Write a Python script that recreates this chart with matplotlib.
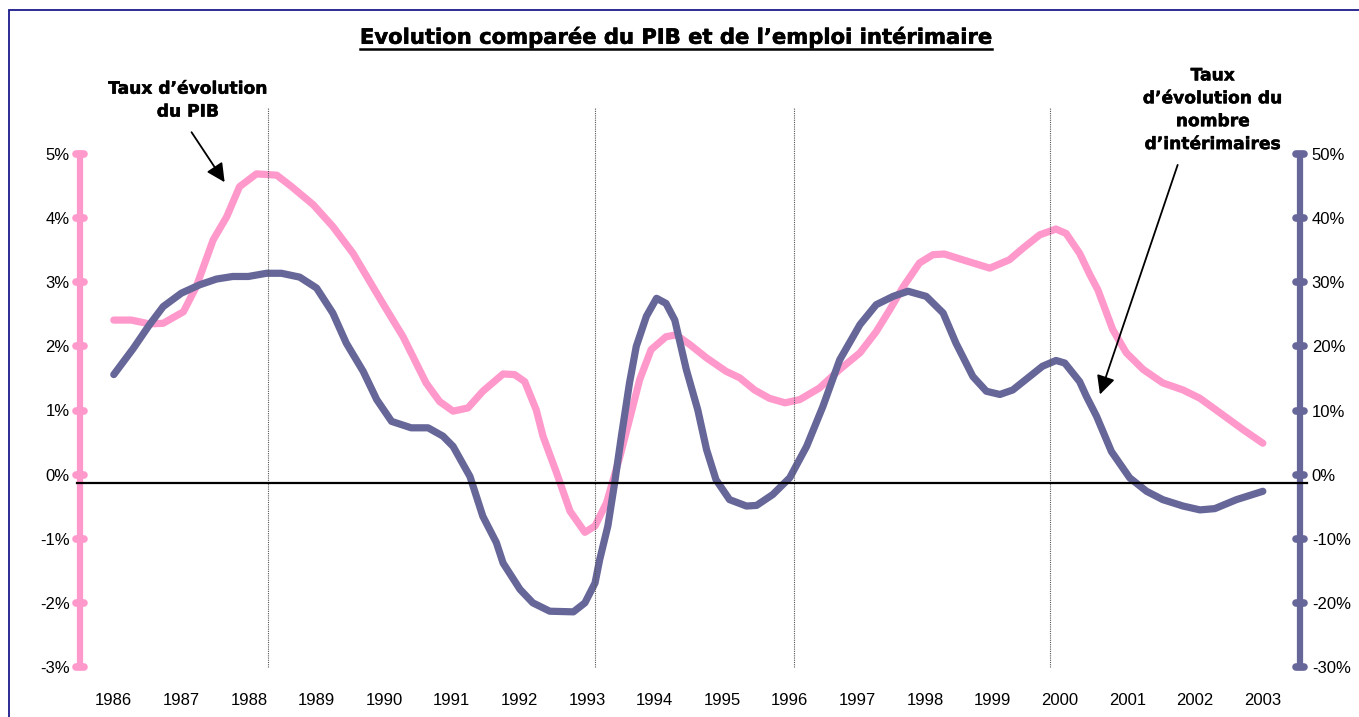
import matplotlib
matplotlib.use('Agg')
import matplotlib.pyplot as plt
import matplotlib.patheffects as pe
from matplotlib.lines import Line2D
from matplotlib.patches import Rectangle

PINK = '#FF99CC'
PURPLE = '#666699'

# taux d'evolution du PIB (%), axe de gauche
pib_x = [1986.00, 1986.26, 1986.53, 1986.73, 1987.03, 1987.22, 1987.47, 1987.67, 1987.86, 1988.11,
         1988.41, 1988.62, 1988.95, 1989.24, 1989.54, 1989.98, 1990.28, 1990.62, 1990.82, 1991.02,
         1991.24, 1991.46, 1991.66, 1991.76, 1991.93, 1992.08, 1992.25, 1992.35, 1992.55, 1992.75,
         1992.97, 1993.12, 1993.29, 1993.49, 1993.63, 1993.78, 1993.95, 1994.17, 1994.32, 1994.52,
         1994.77, 1995.06, 1995.26, 1995.48, 1995.70, 1995.93, 1996.15, 1996.44, 1996.74, 1997.04,
         1997.28, 1997.48, 1997.68, 1997.92, 1998.12, 1998.29, 1998.56, 1998.96, 1999.25, 1999.45,
         1999.70, 1999.94, 2000.09, 2000.29, 2000.44, 2000.56, 2000.78, 2000.98, 2001.23, 2001.52,
         2001.82, 2002.07, 2002.41, 2002.71, 2003.00]
pib = [2.41, 2.41, 2.35, 2.36, 2.54, 2.93, 3.66, 4.02, 4.49, 4.69,
       4.67, 4.50, 4.21, 3.87, 3.45, 2.67, 2.15, 1.43, 1.14, 0.99,
       1.04, 1.30, 1.48, 1.57, 1.56, 1.45, 1.01, 0.60, 0.03, -0.57,
       -0.90, -0.80, -0.44, 0.29, 0.86, 1.48, 1.95, 2.15, 2.18, 2.03,
       1.82, 1.61, 1.51, 1.32, 1.19, 1.12, 1.17, 1.35, 1.64, 1.90,
       2.23, 2.57, 2.93, 3.30, 3.43, 3.44, 3.35, 3.22, 3.35, 3.53,
       3.74, 3.83, 3.76, 3.45, 3.12, 2.88, 2.26, 1.90, 1.64, 1.43,
       1.32, 1.19, 0.93, 0.70, 0.49]

# taux d'evolution du nombre d'interimaires (%), axe de droite
int_x = [1986.00, 1986.29, 1986.53, 1986.73, 1987.00, 1987.27, 1987.52, 1987.76, 1987.99, 1988.26,
         1988.48, 1988.75, 1989.00, 1989.24, 1989.44, 1989.69, 1989.89, 1990.11, 1990.40, 1990.65,
         1990.87, 1991.02, 1991.27, 1991.46, 1991.66, 1991.76, 1992.01, 1992.20, 1992.45, 1992.80,
         1992.97, 1993.12, 1993.19, 1993.31, 1993.41, 1993.51, 1993.63, 1993.73, 1993.88, 1994.03,
         1994.17, 1994.30, 1994.47, 1994.64, 1994.77, 1994.91, 1995.11, 1995.36, 1995.51, 1995.75,
         1996.00, 1996.25, 1996.49, 1996.74, 1997.04, 1997.28, 1997.53, 1997.75, 1998.02, 1998.27,
         1998.46, 1998.71, 1998.91, 1999.11, 1999.30, 1999.55, 1999.74, 1999.94, 2000.07, 2000.29,
         2000.39, 2000.54, 2000.76, 2001.03, 2001.28, 2001.52, 2001.82, 2002.07, 2002.29, 2002.61,
         2003.00]
interim = [15.6, 19.7, 23.4, 26.2, 28.3, 29.6, 30.5, 30.9, 30.9, 31.4,
           31.4, 30.8, 29.1, 25.2, 20.5, 16.1, 11.7, 8.3, 7.3, 7.3,
           6.0, 4.4, -0.3, -6.5, -10.6, -13.8, -17.9, -20.0, -21.3, -21.4,
           -20.0, -16.9, -13.2, -8.0, -1.3, 6.0, 14.3, 20.0, 24.7, 27.5,
           26.7, 24.1, 16.4, 10.1, 3.9, -0.8, -3.9, -4.9, -4.8, -3.1,
           -0.5, 4.4, 10.6, 17.9, 23.4, 26.5, 27.8, 28.6, 27.8, 25.2,
           20.5, 15.3, 13.0, 12.5, 13.2, 15.3, 16.9, 17.8, 17.4, 14.5,
           12.2, 9.1, 3.6, -0.5, -2.6, -3.9, -4.9, -5.5, -5.3, -3.9,
           -2.6]

years = list(range(1986, 2004))
left_ticks = [-3, -2, -1, 0, 1, 2, 3, 4, 5]
right_ticks = [-30, -20, -10, 0, 10, 20, 30, 40, 50]
markers = [1988.28, 1993.12, 1996.06, 1999.85]
zero_line = -0.13

fig = plt.figure(figsize=(13.59, 7.17), dpi=100)
ax = fig.add_axes([80 / 1359, 50 / 717, 1220 / 1359, 513 / 717])
ax2 = ax.twinx()

ax.plot(pib_x, pib, color=PINK, lw=5.2, solid_capstyle='round', solid_joinstyle='round')
ax2.plot(int_x, interim, color=PURPLE, lw=5.2, solid_capstyle='round', solid_joinstyle='round')

ax.set_xlim(1985.5, 2003.55)
ax.set_ylim(-3, 5)
ax2.set_ylim(-30, 50)

# lignes verticales pointillees et ligne horizontale
for m in markers:
    ax2.plot([m, m], [-30, 57.3], color='#555555', lw=0.8, ls=(0, (1, 1)), clip_on=False, zorder=5)
ax2.plot([1985.45, 2003.65], [zero_line * 10, zero_line * 10], color='black', lw=1.6,
         clip_on=False, zorder=6)

for a in (ax, ax2):
    for s in a.spines.values():
        s.set_visible(False)
ax.spines['left'].set_visible(True)
ax.spines['left'].set_color(PINK)
ax.spines['left'].set_linewidth(4.5)
ax2.spines['right'].set_visible(True)
ax2.spines['right'].set_color(PURPLE)
ax2.spines['right'].set_linewidth(4.5)

# graduations arrondies sur les axes
half = 4 / 1220
for t in left_ticks:
    ax.plot([-half, half], [t, t], color=PINK, lw=5.5, solid_capstyle='round',
            transform=ax.get_yaxis_transform(), clip_on=False)
for t in right_ticks:
    ax2.plot([1 - half, 1 + half], [t, t], color=PURPLE, lw=5.5, solid_capstyle='round',
             transform=ax2.get_yaxis_transform(), clip_on=False)

tick_font = dict(family='Liberation Sans', size=12)
ax.set_yticks(left_ticks)
ax.set_yticklabels(['%d%%' % t for t in left_ticks], **tick_font)
ax.tick_params(axis='y', length=0, pad=7.5)
ax2.set_yticks(right_ticks)
ax2.set_yticklabels(['%d%%' % t for t in right_ticks], **tick_font)
ax2.tick_params(axis='y', length=0, pad=8.5)
ax.set_xticks(years)
ax.set_xticklabels([str(y) for y in years], **tick_font)
ax.tick_params(axis='x', length=0, pad=18.5)

# annotations
heavy = [pe.withStroke(linewidth=0.35, foreground='black')]
note_font = dict(family='DejaVu Sans', weight='bold', size=12.3, ha='center', va='center',
                 linespacing=1.35, path_effects=heavy)
ax.text(1987.1, 5.84, 'Taux d\u2019évolution\ndu PIB', clip_on=False, **note_font)
ax.annotate('', xy=(1987.64, 4.56), xytext=(1987.15, 5.34), annotation_clip=False,
            arrowprops=dict(arrowstyle='-|>', color='black', lw=1.3, mutation_scale=28,
                            shrinkA=0, shrinkB=0))
ax2.text(2002.26, 56.9, 'Taux\nd\u2019évolution du\nnombre\nd\u2019intérimaires', clip_on=False,
         **note_font)
ax2.annotate('', xy=(2000.59, 12.5), xytext=(2001.74, 48.3), annotation_clip=False,
             arrowprops=dict(arrowstyle='-|>', color='black', lw=1.3, mutation_scale=28,
                             shrinkA=0, shrinkB=0))

# titre souligne
title = fig.text(676 / 1359, 1 - 37 / 717,
                 'Evolution comparée du PIB et de l\u2019emploi intérimaire',
                 family='DejaVu Sans', weight='bold', size=15.2, ha='center', va='center',
                 path_effects=[pe.withStroke(linewidth=0.4, foreground='black')])
fig.canvas.draw()
bb = title.get_window_extent().transformed(fig.transFigure.inverted())
fig.add_artist(Line2D([bb.x0, bb.x1], [1 - 49 / 717, 1 - 49 / 717], color='black', lw=1.8,
                      transform=fig.transFigure))

# cadre
fig.add_artist(Rectangle((9 / 1359, -0.05), 2, 1.05 - 10 / 717, transform=fig.transFigure,
                         fill=False, edgecolor='#1a1a8c', lw=1.3))

fig.savefig('out.png', dpi=100)
